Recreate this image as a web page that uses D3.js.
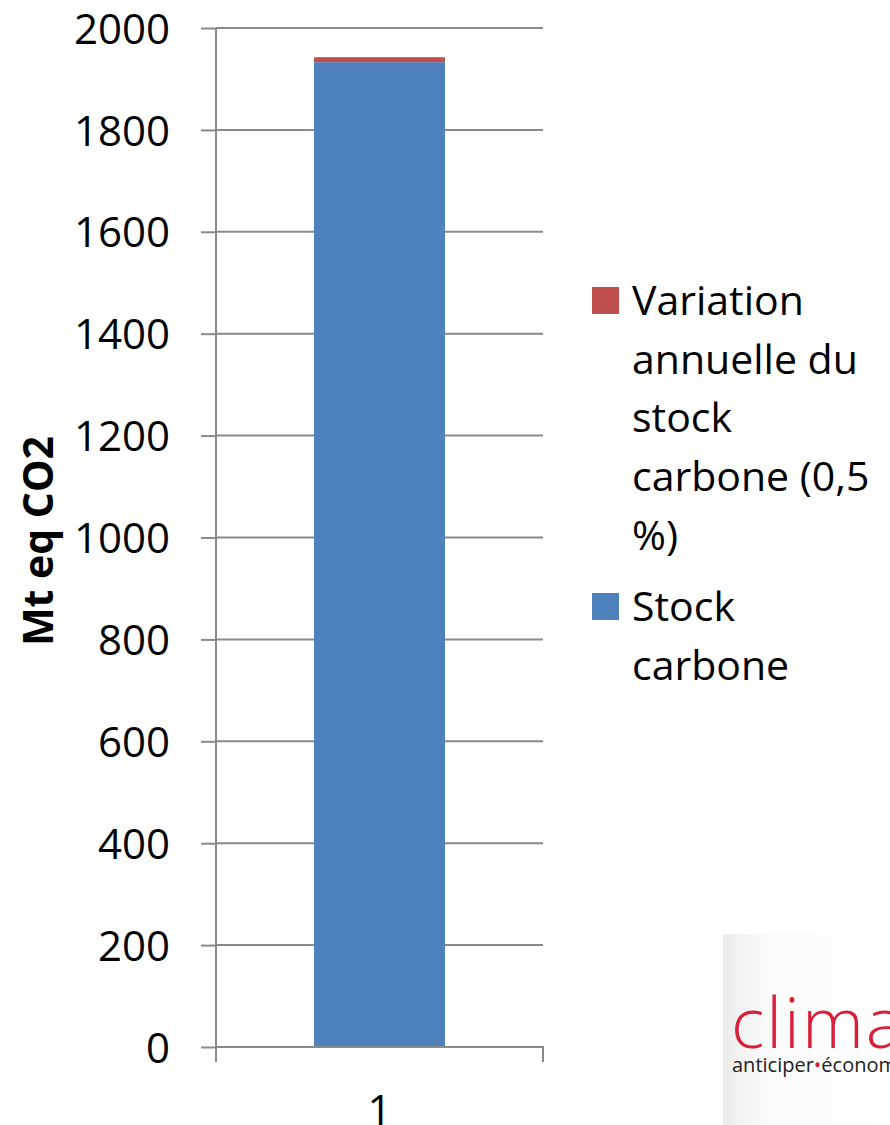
<!DOCTYPE html>
<html>
<head>
<meta charset="utf-8">
<script src="https://cdn.jsdelivr.net/npm/d3@7/dist/d3.min.js"></script>
<style>
  body { margin: 0; background: #fff; }
  text { font-family: "Open Sans", sans-serif; }
</style>
</head>
<body>
<svg id="chart" width="890" height="1125"></svg>
<script>
// chart data
var categories = ['1'];
var stockCarbone = [1933];
var variationAnnuelle = [9.7];
var yTicks = [0, 200, 400, 600, 800, 1000, 1200, 1400, 1600, 1800, 2000];
var seriesNames = ['Stock carbone', 'Variation annuelle du stock carbone (0,5 %)'];
var seriesColors = ['#4f81bd', '#c0504d'];

var svg = d3.select('#chart');
var plotLeft = 216, plotRight = 543, plotTop = 28, plotBottom = 1047;
var gridColor = '#8a8a8a';

var yScale = d3.scaleLinear().domain([0, 2000]).range([plotBottom, plotTop]);
var xScale = d3.scaleBand().domain(categories).range([plotLeft, plotRight])
  .paddingInner(0.428).paddingOuter(0.428);

// grid lines
svg.append('g')
  .selectAll('line')
  .data(yTicks.filter(function(d) { return d > 0; }))
  .enter().append('line')
  .attr('x1', plotLeft).attr('x2', plotRight)
  .attr('y1', function(d) { return yScale(d); })
  .attr('y2', function(d) { return yScale(d); })
  .attr('stroke', gridColor).attr('stroke-width', 2);

// stacked bars
var rows = categories.map(function(c, i) {
  return {cat: c, s0: stockCarbone[i], s1: variationAnnuelle[i]};
});
var stack = d3.stack().keys(['s0', 's1'])(rows);

svg.append('g')
  .selectAll('g')
  .data(stack)
  .enter().append('g')
  .attr('fill', function(d, i) { return seriesColors[i]; })
  .selectAll('rect')
  .data(function(d) { return d; })
  .enter().append('rect')
  .attr('x', function(d) { return xScale(d.data.cat); })
  .attr('width', xScale.bandwidth())
  .attr('y', function(d) { return yScale(d[1]); })
  .attr('height', function(d) { return yScale(d[0]) - yScale(d[1]); });

// y axis
var yAxis = d3.axisLeft(yScale).tickValues(yTicks).tickSize(15).tickPadding(31)
  .tickFormat(d3.format('d'));
var gy = svg.append('g').attr('transform', 'translate(' + plotLeft + ',0)').call(yAxis);
gy.select('.domain').attr('stroke', gridColor).attr('stroke-width', 2)
  .attr('d', 'M0,' + plotTop + 'V' + (plotBottom + 15));
gy.selectAll('.tick line').attr('stroke', gridColor).attr('stroke-width', 2);
gy.selectAll('.tick text')
  .attr('font-family', '"Open Sans", sans-serif')
  .attr('font-size', 42).attr('fill', '#000').attr('dy', '0.36em');

// x axis
var xAxis = d3.axisBottom(xScale).tickSize(0).tickPadding(48);
var gx = svg.append('g').attr('transform', 'translate(0,' + plotBottom + ')').call(xAxis);
gx.select('.domain').attr('stroke', gridColor).attr('stroke-width', 2)
  .attr('d', 'M' + plotLeft + ',15V0H' + plotRight + 'V15');
gx.selectAll('.tick text')
  .attr('font-family', '"Open Sans", sans-serif')
  .attr('font-size', 42).attr('fill', '#000');

// axis title
svg.append('text')
  .attr('transform', 'translate(53,541) rotate(-90)')
  .attr('text-anchor', 'middle')
  .attr('font-size', 41).attr('font-weight', 'bold')
  .text('Mt eq CO2');

// legend
var legendItems = [
  {color: seriesColors[1], lines: ['Variation', 'annuelle du', 'stock', 'carbone (0,5', '%)'], y: 287},
  {color: seriesColors[0], lines: ['Stock', 'carbone'], y: 593}
];
var lg = svg.append('g').selectAll('g').data(legendItems).enter().append('g');
lg.append('rect')
  .attr('x', 592).attr('y', function(d) { return d.y; })
  .attr('width', 27).attr('height', 27)
  .attr('fill', function(d) { return d.color; });
lg.each(function(d) {
  d3.select(this).selectAll('text').data(d.lines).enter().append('text')
    .attr('x', 632)
    .attr('y', function(t, i) { return d.y + 28 + i * 58.7; })
    .attr('font-size', 41)
    .text(function(t) { return t; });
});

// logo in the corner
var defs = svg.append('defs');
var grad = defs.append('linearGradient').attr('id', 'logoBg');
grad.append('stop').attr('offset', '0%').attr('stop-color', '#ececec');
grad.append('stop').attr('offset', '25%').attr('stop-color', '#fafafa');
grad.append('stop').attr('offset', '100%').attr('stop-color', '#ffffff');
svg.append('rect').attr('x', 723).attr('y', 934).attr('width', 167).attr('height', 191)
  .attr('fill', 'url(#logoBg)');
svg.append('text').attr('x', 731).attr('y', 1048)
  .attr('font-family', 'Lato, sans-serif').attr('font-weight', 300)
  .attr('font-size', 70).attr('letter-spacing', 2).attr('fill', '#d9203a').text('clima');
var sub = svg.append('text').attr('x', 732).attr('y', 1072)
  .attr('font-size', 20).attr('fill', '#222');
sub.append('tspan').text('anticiper');
sub.append('tspan').attr('fill', '#d9203a').text('•');
sub.append('tspan').text('économ');
</script>
</body>
</html>
